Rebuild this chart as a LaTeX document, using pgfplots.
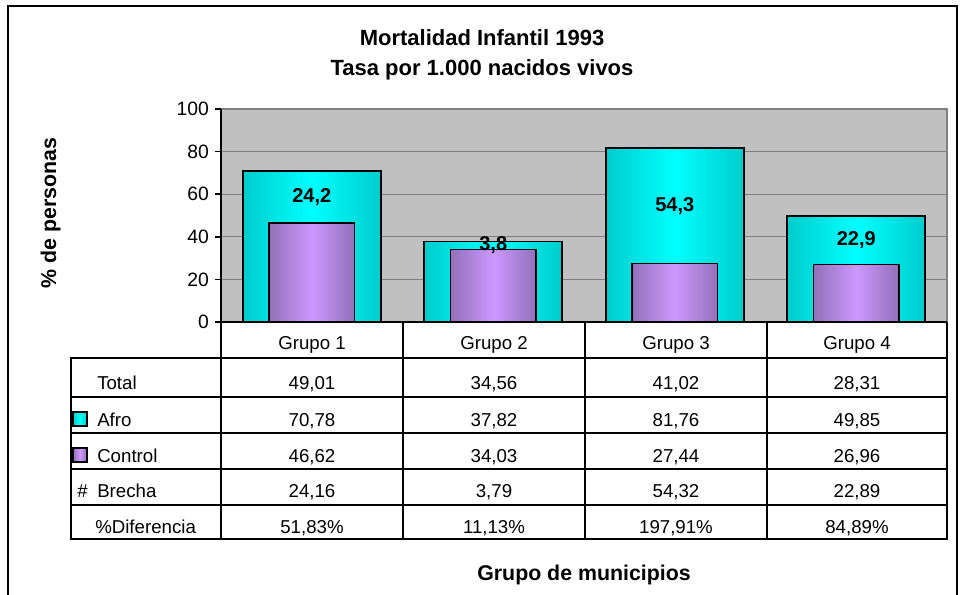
\documentclass[border=0pt]{standalone}
\usepackage{fontspec}
\setmainfont{Liberation Sans}
\usepackage{pgfplots}
\pgfplotsset{compat=1.18}
\usepackage{pgfplotstable}
\definecolor{bggray}{HTML}{C0C0C0}
\definecolor{gridgray}{HTML}{808080}
\definecolor{cyanD}{HTML}{00CCCC}
\definecolor{cyanL}{HTML}{00FFFF}
\definecolor{purD}{HTML}{9370B8}
\definecolor{purL}{HTML}{CC99FF}

\pgfplotstableread{
x mid label
0 58.70 24,2
1 35.93 3,8
2 54.60 54,3
3 38.41 22,9
}\labtab

\pgfplotsset{
  afrobar/.style={ybar, bar width=0.76, bar shift=0pt, draw=black, line width=1.3pt,
    left color=cyanD, right color=cyanD, middle color=cyanL},
  ctrlbar/.style={ybar, bar width=0.47, bar shift=0pt, draw=black, line width=1.3pt,
    left color=purD, right color=purD, middle color=purL},
}
\newcommand{\reg}{\fontsize{14}{16}\selectfont}
\newcommand{\cell}[3]{\node[anchor=base, font=\reg] at (#1,{594-#2}) {#3};}
\newcommand{\col}[6]{\cell{#1}{389.5}{#2}\cell{#1}{426}{#3}\cell{#1}{462}{#4}\cell{#1}{497.5}{#5}\cell{#1}{533}{#6}}
\begin{document}
\begin{tikzpicture}[x=0.75pt,y=0.75pt]
\useasboundingbox (0,0) rectangle (965,594);
\coordinate (A) at (221,272);
\begin{axis}[
  at={(A)}, anchor=south west, scale only axis,
  width=544.5pt, height=159.75pt,
  xmin=-0.5, xmax=3.5, ymin=0, ymax=100,
  xtick=\empty, ytick={0,20,...,100},
  ytick pos=left, tick align=outside, major tick length=4.5pt,
  ytick style={black, line width=1.3pt},
  axis line style={draw=none},
  axis background/.style={fill=bggray},
  ymajorgrids, grid style={gridgray, line width=0.9pt},
  yticklabel style={font=\fontsize{14.5}{16}\selectfont, xshift=-1pt},
  /pgf/number format/assume math mode=true,
  clip=false,
]
% Afro
\addplot[afrobar] coordinates {(0,70.78)};
\addplot[afrobar] coordinates {(1,37.82)};
\addplot[afrobar] coordinates {(2,81.76)};
\addplot[afrobar] coordinates {(3,49.85)};
% Control
\addplot[ctrlbar] coordinates {(0,46.62)};
\addplot[ctrlbar] coordinates {(1,34.03)};
\addplot[ctrlbar] coordinates {(2,27.44)};
\addplot[ctrlbar] coordinates {(3,26.96)};
% Brecha labels
\addplot[draw=none, mark=none, nodes near coords, point meta=explicit symbolic,
  every node near coord/.append style={anchor=center, font=\bfseries\fontsize{15}{17}\selectfont}]
  table[x=x, y=mid, meta=label]{\labtab};
\end{axis}
% plot borders
\draw[gridgray, line width=1.6pt] (221,{594-109}) -- (947,{594-109}) -- (947,{594-322});
\draw[black, line width=2pt] (221,{594-109}) -- (221,{594-539});
\draw[black, line width=2pt] (221,{594-322}) -- (947,{594-322});
% table
\draw[black, line width=0.8pt] (71,{594-397}) -- (947,{594-397}) (71,{594-433}) -- (947,{594-433}) (71,{594-469}) -- (947,{594-469}) (71,{594-505}) -- (947,{594-505});
\draw[black, line width=2pt] (71,{594-358}) rectangle (947,{594-539});
\draw[black, line width=2pt] (403,{594-322}) -- (403,{594-539}) (585,{594-322}) -- (585,{594-539}) (767,{594-322}) -- (767,{594-539}) (947,{594-322}) -- (947,{594-539});
% frame
\draw[black, line width=2pt] (8,-10) -- (8,{594-6}) -- (957,{594-6}) -- (957,-10);
% titles
\node[anchor=base, font=\bfseries\fontsize{16.5}{18}\selectfont] at (482,{594-46}) {Mortalidad Infantil 1993};
\node[anchor=base, font=\bfseries\fontsize{16.5}{18}\selectfont] at (482,{594-76}) {Tasa por 1.000 nacidos vivos};
\node[anchor=base, rotate=90, font=\bfseries\fontsize{16}{18}\selectfont] at (56,{594-213}) {\% de personas};
\node[anchor=base, font=\bfseries\fontsize{16}{18}\selectfont] at (584,{594-580}) {Grupo de municipios};
% header
\cell{312}{349}{Grupo 1}
\cell{494}{349}{Grupo 2}
\cell{676}{349}{Grupo 3}
\cell{857}{349}{Grupo 4}
% row labels
\node[anchor=base west, inner sep=0, font=\reg] at (97,{594-389.5}) {Total};
\node[anchor=base west, inner sep=0, font=\reg] at (97,{594-426}) {Afro};
\node[anchor=base west, inner sep=0, font=\reg] at (97,{594-462}) {Control};
\node[anchor=base west, inner sep=0, font=\reg] at (97,{594-497.5}) {Brecha};
\node[anchor=base west, inner sep=0, font=\reg] at (95,{594-533}) {\%Diferencia};
\node[anchor=base west, inner sep=0, font=\reg] at (77,{594-497.5}) {\#};
\draw[black, line width=1.3pt, left color=cyanD, right color=cyanD, middle color=cyanL] (73,{594-412}) rectangle (87,{594-426});
\draw[black, line width=1.3pt, left color=purD, right color=purD, middle color=purL] (73,{594-448}) rectangle (87,{594-462});
% values
\col{312}{49,01}{70,78}{46,62}{24,16}{51,83\%}
\col{494}{34,56}{37,82}{34,03}{3,79}{11,13\%}
\col{676}{41,02}{81,76}{27,44}{54,32}{197,91\%}
\col{857}{28,31}{49,85}{26,96}{22,89}{84,89\%}
\end{tikzpicture}
\end{document}
